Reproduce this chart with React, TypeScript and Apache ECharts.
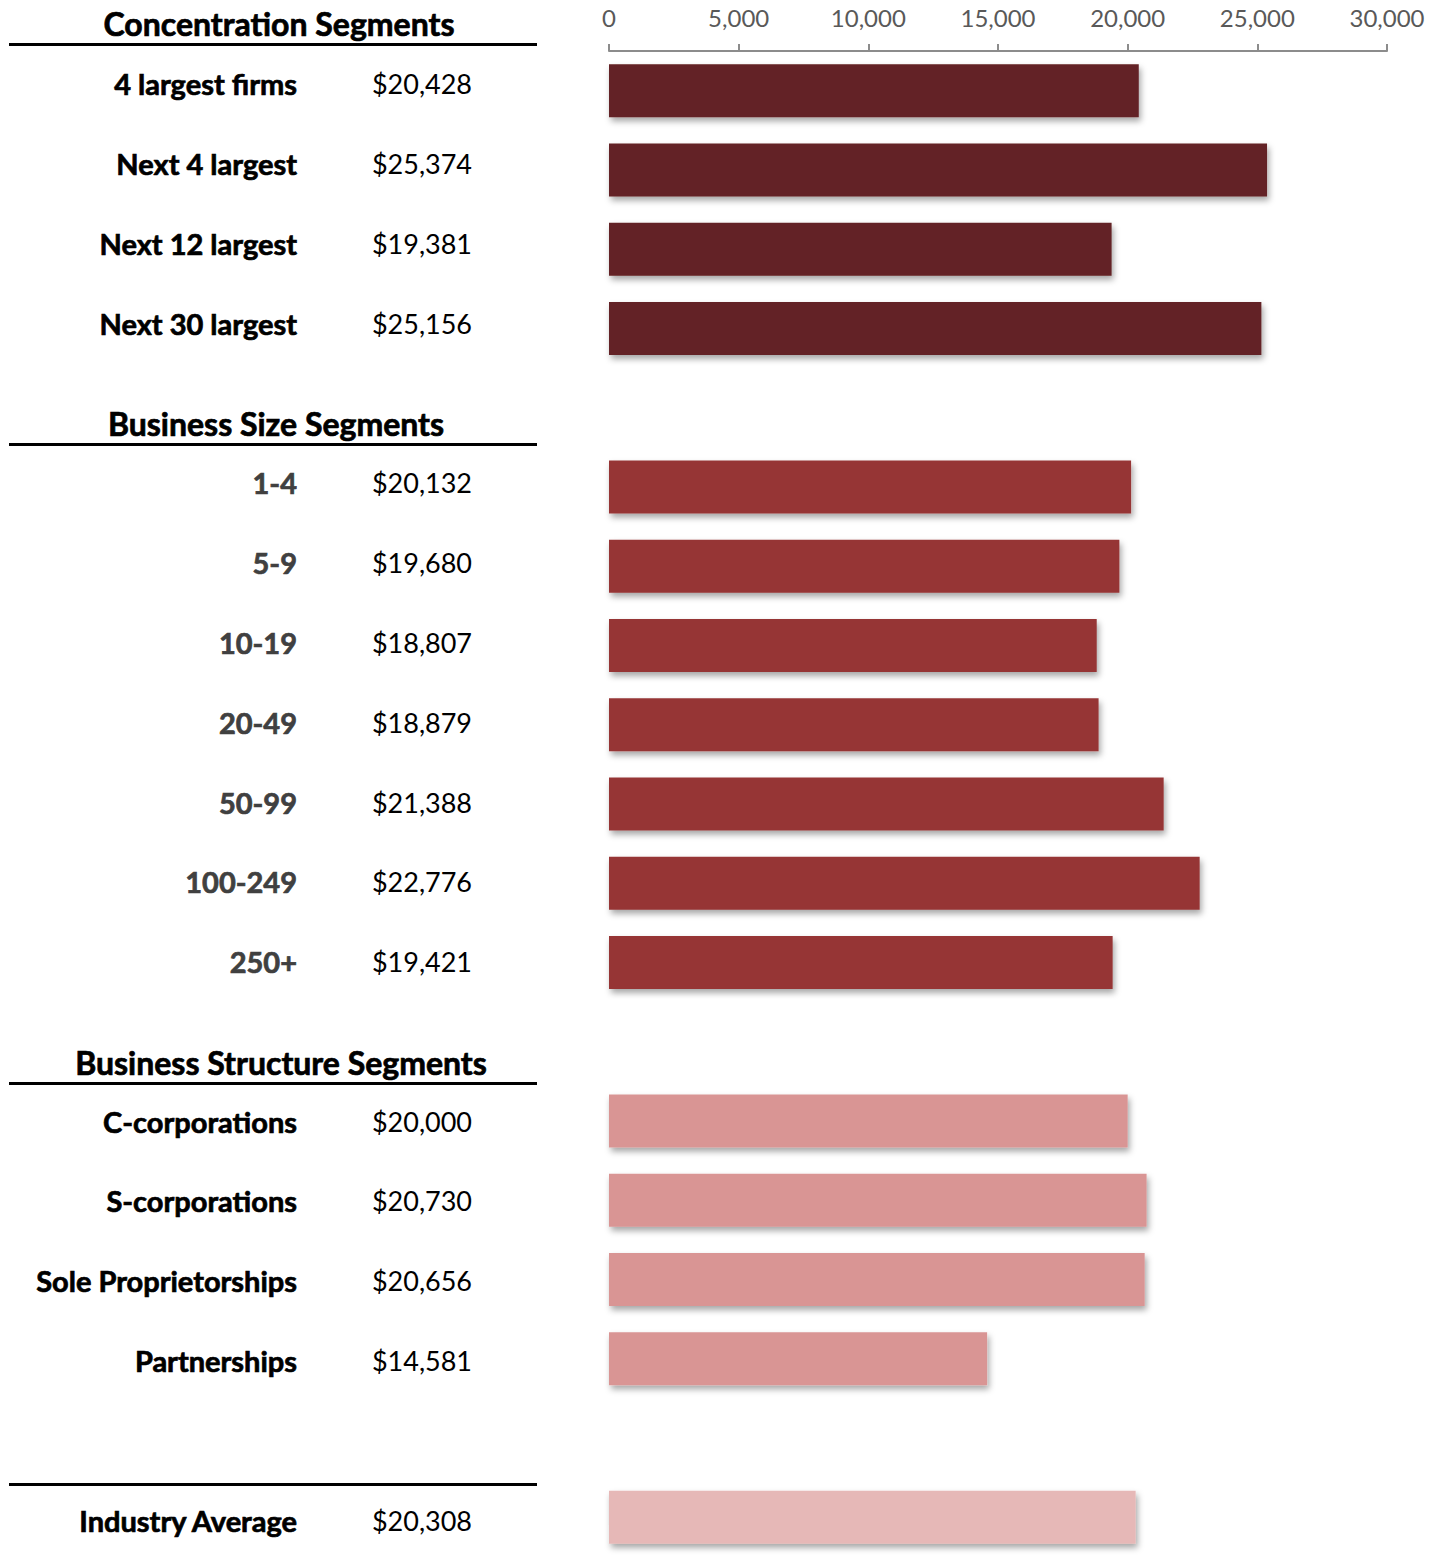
import React, { useEffect, useRef } from "react";
import * as echarts from "echarts";

const concentrationLabels = ["4 largest firms", "Next 4 largest", "Next 12 largest", "Next 30 largest"];
const concentrationValues = [20428, 25374, 19381, 25156];
const sizeLabels = ["1-4", "5-9", "10-19", "20-49", "50-99", "100-249", "250+"];
const sizeValues = [20132, 19680, 18807, 18879, 21388, 22776, 19421];
const structureLabels = ["C-corporations", "S-corporations", "Sole Proprietorships", "Partnerships"];
const structureValues = [20000, 20730, 20656, 14581];
const averageLabels = ["Industry Average"];
const averageValues = [20308];
const xTicks = { min: 0, max: 30000, interval: 5000 };
const headers = ["Concentration Segments", "Business Size Segments", "Business Structure Segments"];

const COLORS = {
  conc: "#632325",
  size: "#963636",
  struct: "#D99594",
  avg: "#E6B8B7",
};

type Row = { key: string; label: string; value: number | null; color: string; style: string };

function buildRows(): Row[] {
  const rows: Row[] = [];
  concentrationLabels.forEach((l, i) =>
    rows.push({ key: "c" + i, label: l, value: concentrationValues[i], color: COLORS.conc, style: "k" })
  );
  rows.push({ key: "gap1", label: "", value: null, color: "", style: "k" });
  sizeLabels.forEach((l, i) =>
    rows.push({ key: "s" + i, label: l, value: sizeValues[i], color: COLORS.size, style: "g" })
  );
  rows.push({ key: "gap2", label: "", value: null, color: "", style: "k" });
  structureLabels.forEach((l, i) =>
    rows.push({ key: "t" + i, label: l, value: structureValues[i], color: COLORS.struct, style: "k" })
  );
  rows.push({ key: "gap3", label: "", value: null, color: "", style: "k" });
  averageLabels.forEach((l, i) =>
    rows.push({ key: "a" + i, label: l, value: averageValues[i], color: COLORS.avg, style: "k" })
  );
  return rows;
}

const fmt = (v: number) => "$" + v.toLocaleString("en-US");

export default function App() {
  const ref = useRef<HTMLDivElement>(null);
  useEffect(() => {
    if (!ref.current) return;
    const chart = echarts.init(ref.current, undefined, { renderer: "svg" });
    const rows = buildRows();
    const keys = rows.map((r) => r.key);
    const byKey: Record<string, Row> = {};
    rows.forEach((r) => (byKey[r.key] = r));
    const font = "Lato";
    const lineStyle = { stroke: "#000", lineWidth: 3 };
    const headerStyle = (text: string, x: number, y: number) => ({
      type: "text",
      x,
      y,
      style: {
        text,
        fill: "#000",
        stroke: "#000",
        lineWidth: 0.7,
        font: `bold 32px ${font}`,
        textAlign: "center",
        textVerticalAlign: "middle",
      },
    });
    chart.setOption({
      animation: false,
      grid: [
        { left: 609, right: 53, top: 51, bottom: 3, containLabel: false },
        { left: 609, right: 53, top: 44, height: 1520, containLabel: false },
      ],
      xAxis: [
        {
          type: "value",
          gridIndex: 0,
          position: "top",
          min: xTicks.min,
          max: xTicks.max,
          interval: xTicks.interval,
          axisLine: { show: true, lineStyle: { color: "#8c8c8c", width: 2 } },
          axisTick: { show: true, length: 7, lineStyle: { color: "#8c8c8c", width: 2 } },
          splitLine: { show: false },
          axisLabel: { color: "#595959", fontSize: 24, fontFamily: font, margin: 22 },
        },
        {
          type: "value",
          gridIndex: 1,
          min: xTicks.min,
          max: xTicks.max,
          show: false,
        },
      ],
      yAxis: [
        {
          type: "category",
          gridIndex: 1,
          inverse: true,
          data: keys,
          axisLine: { show: false },
          axisTick: { show: false },
          axisLabel: {
            margin: 312,
            interval: 0,
            formatter: (k: string) => {
              const r = byKey[k];
              if (!r || !r.label) return "";
              return `{${r.style}|${r.label}}`;
            },
            rich: {
              k: {
                color: "#000",
                fontSize: 29,
                fontWeight: "bold",
                fontFamily: font,
                textBorderColor: "#000",
                textBorderWidth: 0.7,
              },
              g: {
                color: "#404040",
                fontSize: 29,
                fontWeight: "bold",
                fontFamily: font,
                textBorderColor: "#404040",
                textBorderWidth: 0.7,
              },
            },
          },
        },
        {
          type: "category",
          gridIndex: 1,
          inverse: true,
          position: "left",
          data: keys,
          axisLine: { show: false },
          axisTick: { show: false },
          axisLabel: {
            margin: 137,
            interval: 0,
            color: "#000",
            fontSize: 27,
            fontFamily: font,
            formatter: (k: string) => {
              const r = byKey[k];
              if (!r || r.value == null) return "";
              return fmt(r.value);
            },
          },
        },
        {
          type: "category",
          gridIndex: 0,
          inverse: true,
          data: keys,
          show: false,
        },
      ],
      series: [
        {
          type: "bar",
          xAxisIndex: 0,
          yAxisIndex: 2,
          barWidth: 53,
          data: rows.map((r) =>
            r.value == null
              ? "-"
              : {
                  value: r.value,
                  itemStyle: {
                    color: r.color,
                    shadowBlur: 6,
                    shadowOffsetX: 2,
                    shadowOffsetY: 4,
                    shadowColor: "rgba(0,0,0,0.35)",
                  },
                }
          ),
        },
      ],
      graphic: [
        headerStyle(headers[0], 279, 23),
        headerStyle(headers[1], 276, 423),
        headerStyle(headers[2], 281, 1062),
        { type: "line", shape: { x1: 9, y1: 44.5, x2: 537, y2: 44.5 }, style: lineStyle },
        { type: "line", shape: { x1: 9, y1: 444.5, x2: 537, y2: 444.5 }, style: lineStyle },
        { type: "line", shape: { x1: 9, y1: 1083.5, x2: 537, y2: 1083.5 }, style: lineStyle },
        { type: "line", shape: { x1: 9, y1: 1484.5, x2: 537, y2: 1484.5 }, style: lineStyle },
      ],
    });
    return () => chart.dispose();
  }, []);
  return (
    <div
      ref={ref}
      style={{ position: "absolute", left: 0, top: 0, width: 1440, height: 1560, background: "#fff" }}
    />
  );
}
